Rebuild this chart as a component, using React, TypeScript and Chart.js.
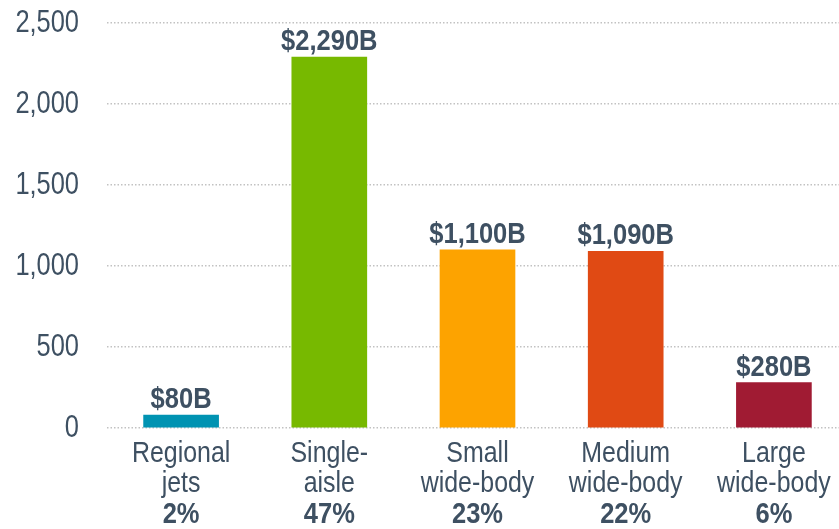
import React, { useEffect, useRef } from "react";
import { Chart, registerables } from "chart.js";

Chart.register(...registerables);

const categories: string[][] = [
  ["Regional", "jets"],
  ["Single-", "aisle"],
  ["Small", "wide-body"],
  ["Medium", "wide-body"],
  ["Large", "wide-body"],
];
const shares: string[] = ["2%", "47%", "23%", "22%", "6%"];
const values: number[] = [80, 2290, 1100, 1090, 280];
const colors: string[] = ["#0093b2", "#77b900", "#fda300", "#e04a14", "#a01b33"];
const yTicks: number[] = [0, 500, 1000, 1500, 2000, 2500];

const FONT = "'Liberation Sans', Arial, sans-serif";
const TEXT = "#3e5062";

function drawScaled(ctx: CanvasRenderingContext2D, text: string, x: number, y: number, font: string, sx: number, align: CanvasTextAlign, baseline: CanvasTextBaseline) {
  ctx.save();
  ctx.translate(x, y);
  ctx.scale(sx, 1);
  ctx.font = font;
  ctx.textAlign = align;
  ctx.textBaseline = baseline;
  ctx.fillText(text, 0, 0);
  ctx.restore();
}

const labelPlugin = {
  id: "labels",
  afterDatasetsDraw(chart: any) {
    const ctx = chart.ctx as CanvasRenderingContext2D;
    const meta = chart.getDatasetMeta(0);
    const xScale = chart.scales.x;
    const yScale = chart.scales.y;
    const area = chart.chartArea;
    ctx.save();
    ctx.fillStyle = TEXT;
    yTicks.forEach((v) => {
      drawScaled(ctx, v.toLocaleString("en-US"), area.left - 28, yScale.getPixelForValue(v), `31px ${FONT}`, 0.82, "right", "middle");
    });
    meta.data.forEach((bar: any, i: number) => {
      drawScaled(ctx, "$" + values[i].toLocaleString("en-US") + "B", bar.x, bar.y - 7, `bold 29px ${FONT}`, 0.88, "center", "alphabetic");
      const cx = xScale.getPixelForValue(i);
      drawScaled(ctx, categories[i][0], cx, area.bottom + 34, `29px ${FONT}`, 0.86, "center", "alphabetic");
      drawScaled(ctx, categories[i][1], cx, area.bottom + 64, `29px ${FONT}`, 0.86, "center", "alphabetic");
      drawScaled(ctx, shares[i], cx, area.bottom + 95, `bold 29px ${FONT}`, 0.88, "center", "alphabetic");
    });
    ctx.restore();
  },
};

export default function App() {
  const ref = useRef<HTMLCanvasElement>(null);
  useEffect(() => {
    if (!ref.current) return;
    const chart = new Chart(ref.current, {
      type: "bar",
      data: {
        labels: categories.map((c) => c.join(" ")),
        datasets: [
          {
            data: values,
            backgroundColor: colors,
            barThickness: 75,
          },
        ],
      },
      options: {
        animation: false,
        responsive: false,
        maintainAspectRatio: false,
        layout: { padding: { top: 23, bottom: 101, right: 0, left: 0 } },
        plugins: { legend: { display: false }, tooltip: { enabled: false } },
        scales: {
          x: {
            display: false,
          },
          y: {
            min: 0,
            max: 2500,
            afterBuildTicks: (scale: any) => {
              scale.ticks = yTicks.map((v) => ({ value: v }));
            },
            afterFit: (scale: any) => {
              scale.width = 107;
            },
            ticks: { display: false },
            grid: { color: "#c2c2c2", lineWidth: 1.5, drawTicks: false },
            border: { display: false, dash: [1.5, 2] },
          },
        },
      },
      plugins: [labelPlugin],
    });
    return () => chart.destroy();
  }, []);
  return (
    <div style={{ position: "absolute", left: 0, top: 0, width: 839, height: 529, overflow: "hidden", background: "#fff" }}>
      <canvas ref={ref} width={848} height={529} style={{ width: 848, height: 529, display: "block" }} />
    </div>
  );
}
